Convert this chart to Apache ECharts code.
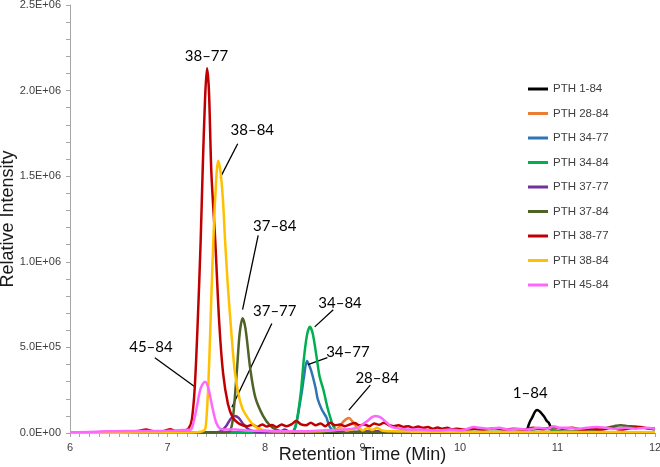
<!DOCTYPE html>
<html>
<head>
<meta charset="utf-8">
<script src="https://cdn.jsdelivr.net/npm/echarts@6/dist/echarts.min.js"></script>
<style>
  html, body { margin: 0; padding: 0; background: #fff; }
  #chart { width: 660px; height: 467px; }
</style>
</head>
<body>
<div id="chart"></div>
<script>
// retention time (min), intensity (x 1e6)
const pth1_84 = [[6.0,0.002],[8.0,0.002],[10.0,0.002],[10.6,0.004],[10.68,0.01],[10.70,0.04],[10.72,0.07],[10.74,0.09],[10.77,0.125],[10.79,0.135],[10.82,0.125],[10.85,0.105],[10.87,0.09],[10.89,0.07],[10.91,0.06],[10.93,0.035],[10.95,0.01],[11.0,0.004],[12.0,0.003]];
const pth28_84 = [[6.0,0.003],[7.0,0.003],[7.5,0.004],[8.0,0.005],[8.5,0.006],[8.7,0.012],[8.76,0.035],[8.81,0.07],[8.86,0.087],[8.90,0.065],[8.94,0.035],[8.98,0.015],[9.1,0.008],[9.5,0.006],[10,0.005],[11,0.005],[12,0.005]];
const pth34_77 = [[6.0,0.002],[7.0,0.002],[8.0,0.003],[8.27,0.005],[8.30,0.02],[8.33,0.08],[8.36,0.18],[8.38,0.25],[8.40,0.33],[8.43,0.42],[8.45,0.40],[8.47,0.37],[8.49,0.33],[8.52,0.26],[8.54,0.20],[8.58,0.14],[8.63,0.09],[8.66,0.04],[8.70,0.012],[8.8,0.005],[10,0.004],[12,0.004]];
const pth34_84 = [[6,0.002],[7,0.002],[8,0.003],[8.28,0.008],[8.31,0.03],[8.34,0.12],[8.37,0.25],[8.40,0.44],[8.43,0.57],[8.46,0.62],[8.49,0.58],[8.53,0.44],[8.56,0.33],[8.60,0.25],[8.64,0.15],[8.67,0.09],[8.70,0.04],[8.74,0.015],[8.8,0.006],[10.7,0.006],[10.75,0.02],[10.85,0.028],[10.95,0.02],[11.05,0.008],[12,0.005]];
const pth37_77 = [[6,0.002],[7,0.003],[7.5,0.005],[7.55,0.012],[7.6,0.04],[7.65,0.085],[7.69,0.10],[7.73,0.088],[7.78,0.05],[7.83,0.022],[7.9,0.008],[8.1,0.006],[8.17,0.012],[8.2,0.02],[8.24,0.01],[8.4,0.005],[9.0,0.008],[9.2,0.012],[9.3,0.006],[10,0.004],[12,0.004]];
const pth37_84 = [[6,0.002],[7,0.003],[7.6,0.004],[7.64,0.01],[7.67,0.08],[7.71,0.35],[7.74,0.58],[7.77,0.67],[7.80,0.61],[7.85,0.37],[7.90,0.21],[7.98,0.10],[8.05,0.045],[8.12,0.018],[8.2,0.008],[9,0.006],[10,0.006],[11,0.008],[11.4,0.015],[11.5,0.03],[11.58,0.04],[11.65,0.045],[11.72,0.04],[11.8,0.038],[11.88,0.03],[11.95,0.025],[12,0.02]];
const pth38_77 = [[6.0,0.003],[6.3,0.005],[6.5,0.008],[6.7,0.012],[6.78,0.02],[6.84,0.012],[6.95,0.01],[7.03,0.022],[7.08,0.012],[7.18,0.015],[7.22,0.03],[7.25,0.08],[7.28,0.27],[7.31,0.65],[7.34,1.12],[7.36,1.52],[7.385,1.95],[7.405,2.13],[7.425,2.0],[7.45,1.52],[7.49,1.12],[7.53,0.65],[7.57,0.35],[7.62,0.17],[7.67,0.09],[7.72,0.06],[7.77,0.045],[7.82,0.04],[7.87,0.048],[7.92,0.035],[7.97,0.05],[8.02,0.038],[8.07,0.047],[8.12,0.035],[8.17,0.05],[8.22,0.04],[8.27,0.05],[8.32,0.07],[8.37,0.05],[8.42,0.045],[8.47,0.06],[8.52,0.045],[8.57,0.055],[8.62,0.04],[8.67,0.06],[8.72,0.045],[8.77,0.05],[8.82,0.04],[8.87,0.05],[8.92,0.058],[8.97,0.045],[9.02,0.05],[9.07,0.04],[9.12,0.055],[9.17,0.048],[9.22,0.06],[9.27,0.045],[9.32,0.04],[9.37,0.045],[9.42,0.035],[9.47,0.04],[9.52,0.03],[9.57,0.038],[9.62,0.03],[9.67,0.035],[9.72,0.025],[9.77,0.032],[9.82,0.025],[9.87,0.03],[9.92,0.022],[9.97,0.025],[10.05,0.02],[10.15,0.025],[10.25,0.02],[10.35,0.028],[10.45,0.02],[10.55,0.025],[10.65,0.02],[10.75,0.03],[10.85,0.022],[10.95,0.035],[11.05,0.025],[11.15,0.03],[11.25,0.02],[11.35,0.025],[11.45,0.02],[11.55,0.03],[11.65,0.02],[11.75,0.028],[11.85,0.035],[11.95,0.025],[12.0,0.028]];
const pth38_84 = [[6.0,0.002],[6.5,0.002],[7.0,0.003],[7.3,0.005],[7.37,0.012],[7.39,0.03],[7.41,0.18],[7.43,0.45],[7.45,0.8],[7.47,1.12],[7.49,1.38],[7.52,1.59],[7.545,1.52],[7.57,1.35],[7.59,1.13],[7.62,0.85],[7.66,0.55],[7.69,0.36],[7.73,0.22],[7.77,0.14],[7.81,0.10],[7.86,0.06],[7.92,0.03],[8.0,0.015],[8.2,0.01],[8.4,0.01],[8.6,0.012],[8.72,0.018],[8.78,0.028],[8.83,0.015],[8.9,0.022],[8.96,0.032],[9.0,0.015],[9.05,0.028],[9.1,0.018],[9.15,0.03],[9.2,0.015],[9.3,0.01],[9.5,0.008],[10,0.006],[11,0.006],[12,0.005]];
const pth45_84 = [[6.0,0.005],[6.2,0.006],[6.4,0.01],[6.6,0.012],[6.8,0.012],[7.0,0.013],[7.1,0.015],[7.18,0.018],[7.24,0.02],[7.27,0.07],[7.30,0.15],[7.34,0.26],[7.385,0.30],[7.42,0.26],[7.46,0.15],[7.50,0.06],[7.54,0.025],[7.6,0.02],[7.7,0.02],[7.8,0.015],[8.0,0.012],[8.2,0.01],[8.4,0.01],[8.6,0.015],[8.8,0.02],[8.95,0.03],[9.0,0.05],[9.05,0.07],[9.09,0.09],[9.13,0.10],[9.17,0.095],[9.2,0.085],[9.25,0.06],[9.3,0.035],[9.4,0.025],[9.5,0.02],[9.6,0.02],[9.7,0.015],[9.8,0.015],[9.9,0.02],[10.0,0.015],[10.08,0.025],[10.14,0.035],[10.2,0.03],[10.3,0.025],[10.4,0.03],[10.5,0.02],[10.6,0.025],[10.7,0.02],[10.8,0.03],[10.9,0.025],[10.96,0.04],[11.02,0.03],[11.1,0.03],[11.2,0.025],[11.3,0.03],[11.4,0.035],[11.5,0.03],[11.6,0.025],[11.7,0.03],[11.8,0.025],[11.9,0.03],[12.0,0.025]];

const seriesNames = ['PTH 1-84', 'PTH 28-84', 'PTH 34-77', 'PTH 34-84', 'PTH 37-77', 'PTH 37-84', 'PTH 38-77', 'PTH 38-84', 'PTH 45-84'];
const seriesValues = [pth1_84, pth28_84, pth34_77, pth34_84, pth37_77, pth37_84, pth38_77, pth38_84, pth45_84];
const colors = ['#000000', '#ed7d31', '#2e75b6', '#00b050', '#7030a0', '#4f6228', '#c00000', '#ffc000', '#ff66ff'];

// peak annotations: label text, label point [t, x1e6], arrow [fromT, fromV, toT, toV]
const peakLabels = ['38–77', '38–84', '37–84', '37–77', '45–84', '34–84', '34–77', '28–84', '1–84'];
const peakLabelPos = [[7.40,2.20],[7.87,1.77],[8.10,1.21],[8.10,0.71],[6.83,0.50],[8.77,0.76],[8.85,0.47],[9.15,0.32],[10.72,0.23]];
const peakArrows = [[7.72,1.69,7.54,1.49],[7.93,1.155,7.77,0.72],[8.07,0.64,7.66,0.15],[6.87,0.44,7.28,0.27],[8.70,0.72,8.51,0.62],[8.64,0.44,8.44,0.40],[9.08,0.28,8.86,0.134]];

const sci = v => {
  const parts = v.toExponential(1).split('e');
  const e = parseInt(parts[1], 10);
  return parts[0] + 'E' + (e < 0 ? '-' : '+') + String(Math.abs(e)).padStart(2, '0');
};

const chart = echarts.init(document.getElementById('chart'));

const series = seriesValues.map((d, i) => ({
  name: seriesNames[i],
  type: 'line',
  showSymbol: false,
  symbol: 'none',
  smooth: 0.3,
  data: d.map(p => [p[0], p[1] * 1e6]),
  lineStyle: { color: colors[i], width: 2.5 },
  itemStyle: { color: colors[i] },
  z: 2 + i
}));

// annotations
series.push({
  type: 'line',
  data: [],
  silent: true,
  z: 20,
  markPoint: {
    symbol: 'circle',
    symbolSize: 0,
    silent: true,
    label: {
      show: true,
      position: 'inside',
      formatter: '{b}',
      color: '#000',
      fontSize: 15,
      fontFamily: 'Lato'
    },
    data: peakLabelPos.map((p, i) => ({ name: peakLabels[i], coord: [p[0], p[1] * 1e6] }))
  },
  markLine: {
    silent: true,
    symbol: ['none', 'arrow'],
    symbolSize: [0, 8],
    label: { show: false },
    lineStyle: { color: '#000', width: 1.3, type: 'solid' },
    emphasis: { disabled: true },
    data: peakArrows.map(a => [{ coord: [a[0], a[1] * 1e6] }, { coord: [a[2], a[3] * 1e6] }])
  }
});

const option = {
  animation: false,
  backgroundColor: '#fff',
  grid: { left: 70, right: 5, top: 5, bottom: 34, outerBoundsMode: 'none', containLabel: false },
  legend: {
    data: seriesNames,
    orient: 'vertical',
    left: 523,
    top: 77,
    icon: 'rect',
    itemWidth: 20,
    itemHeight: 3,
    itemGap: 10.5,
    textStyle: { fontSize: 11.5, color: '#404040', fontFamily: 'Liberation Sans', lineHeight: 14 }
  },
  xAxis: {
    type: 'value',
    min: 6,
    max: 12,
    interval: 1,
    name: 'Retention Time (Min)',
    nameLocation: 'middle',
    nameGap: 13,
    nameMoveOverlap: false,
    nameTextStyle: { fontSize: 18, color: '#1a1a1a', fontFamily: 'Liberation Sans', verticalAlign: 'top' },
    axisLine: { lineStyle: { color: '#a6a6a6', width: 1 } },
    axisTick: { show: true, length: 4, lineStyle: { color: '#a6a6a6' } },
    minorTick: { show: true, splitNumber: 10, length: 4, lineStyle: { color: '#a6a6a6' } },
    axisLabel: { fontSize: 11, color: '#404040', fontFamily: 'Liberation Sans', margin: 9 },
    splitLine: { show: false }
  },
  yAxis: {
    type: 'value',
    min: 0,
    max: 2.5e6,
    interval: 5e5,
    name: 'Relative Intensity',
    nameLocation: 'middle',
    nameGap: 53,
    nameMoveOverlap: false,
    nameTextStyle: { fontSize: 18, color: '#1a1a1a', fontFamily: 'Liberation Sans' },
    axisLine: { show: true, lineStyle: { color: '#a6a6a6', width: 1 } },
    axisTick: { show: true, length: 4, lineStyle: { color: '#a6a6a6' } },
    minorTick: { show: true, splitNumber: 5, length: 4, lineStyle: { color: '#a6a6a6' } },
    axisLabel: { fontSize: 11, color: '#404040', fontFamily: 'Liberation Sans', margin: 9, formatter: sci },
    splitLine: { show: false }
  },
  series: series
};

chart.setOption(option);
</script>
</body>
</html>
